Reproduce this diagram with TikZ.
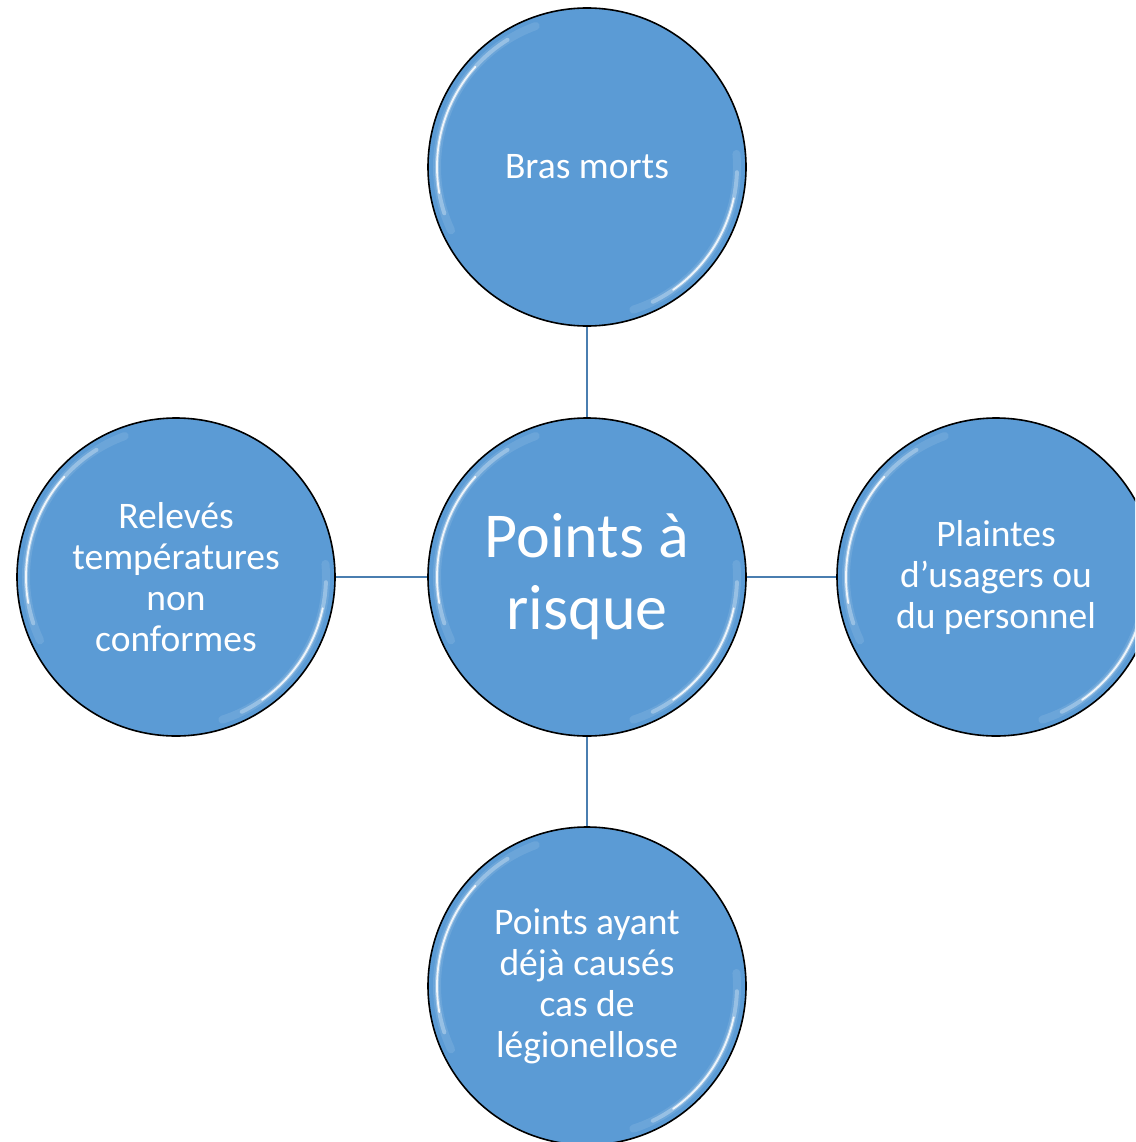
\documentclass[tikz,border=0pt]{standalone}
\usepackage{fontspec}
\setmainfont{Carlito}
\definecolor{bubble}{HTML}{5B9BD5}
\definecolor{linkc}{HTML}{4A7EB0}
\begin{document}
\begin{tikzpicture}[x=1pt,y=-1pt,
  bubble/.style={circle,draw=black,line width=1.6pt,fill=bubble,minimum size=318pt,inner sep=0pt,text=white,align=center,font=\fontsize{37.5}{41}\selectfont},
  bigbubble/.style={bubble,font=\fontsize{64}{72}\selectfont},
  link/.style={draw=linkc,line width=2.4pt},
  glowA/.style={draw=white,line width=8pt,opacity=0.10,line cap=round},
  glowB/.style={draw=white,line width=4pt,opacity=0.30,line cap=round},
  glowC/.style={draw=white,line width=1.8pt,opacity=0.85,line cap=round}]
\useasboundingbox (0,0) rectangle (1135,1142);
\clip (0,0) rectangle (1135,1142);
\node[bigbubble] (c) at (587,577) {Points à\\risque};
\node[bubble] (t) at (587,167) {Bras morts};
\node[bubble] (l) at (176,577) {Relevés\\températures\\non\\conformes};
\node[bubble] (r) at (996,577) {Plaintes\\d’usagers ou\\du personnel};
\node[bubble] (b) at (587,986) {Points ayant\\déjà causés\\cas de\\légionellose};
\foreach \n in {c,t,l,r,b}{
  \draw[glowA] ([shift={(110:150pt)}]\n.center) arc[start angle=110,end angle=205,radius=150pt];
  \draw[glowB] ([shift={(122:150pt)}]\n.center) arc[start angle=122,end angle=198,radius=150pt];
  \draw[glowC] ([shift={(138:150pt)}]\n.center) arc[start angle=138,end angle=190,radius=150pt];
  \draw[glowA] ([shift={(5:150pt)}]\n.center) arc[start angle=5,end angle=-72,radius=150pt];
  \draw[glowB] ([shift={(-2:150pt)}]\n.center) arc[start angle=-2,end angle=-64,radius=150pt];
  \draw[glowC] ([shift={(-12:150pt)}]\n.center) arc[start angle=-12,end angle=-55,radius=150pt];
}
\draw[link] (c) -- (t);
\draw[link] (c) -- (l);
\draw[link] (c) -- (r);
\draw[link] (c) -- (b);
\end{tikzpicture}
\end{document}
